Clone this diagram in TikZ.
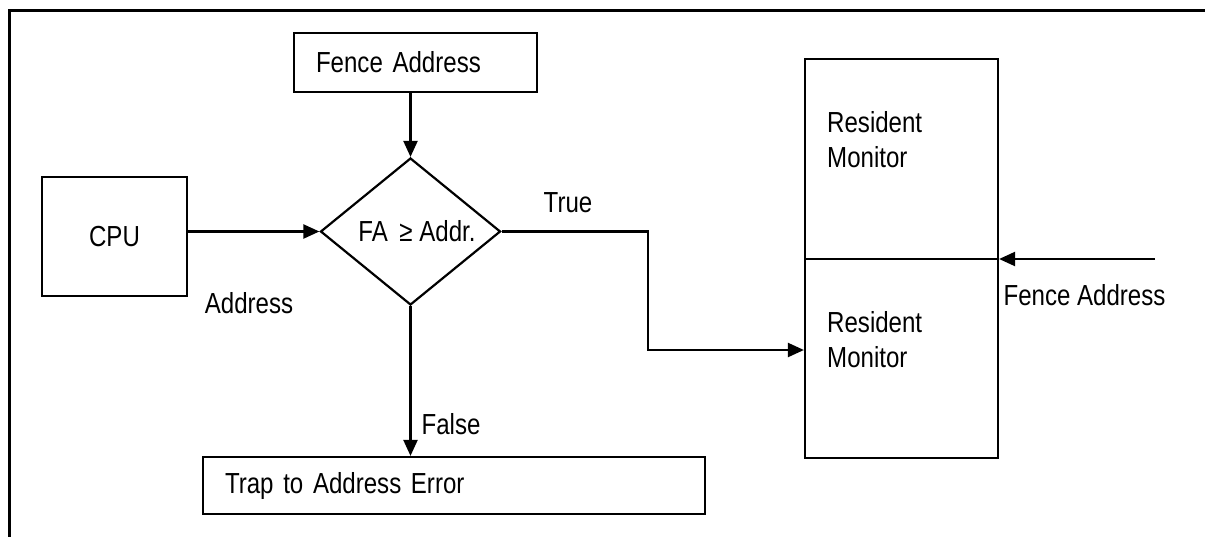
\documentclass[tikz,border=0pt]{standalone}
\usepackage{fontspec}
\setmainfont[FakeStretch=0.83]{Liberation Sans}
\usetikzlibrary{arrows.meta,shapes.geometric}
\begin{document}
\begin{tikzpicture}[x=1pt,y=-1pt,
  font=\fontsize{29}{35}\selectfont,
  box/.style={draw,line width=2.2pt,rectangle,inner sep=0pt},
  lbl/.style={inner sep=0pt},
  flow/.style={line width=2.2pt,-{Triangle[length=16pt,width=14pt]}}]
\useasboundingbox (0,0) rectangle (1205,536);
% frame (left and top edges)
\draw[line width=3pt,line cap=rect] (9,536) -- (9,10);
\draw[line width=3pt] (9,10) -- (1205,10);

% boxes
\node[box,minimum width=243pt,minimum height=59pt,text width=199pt,inner xsep=22pt,align=left]
  (fence) at (415.5,62.5) {Fence Address};
\node[box,minimum width=145pt,minimum height=119pt] (cpu) at (114.5,236.5) {CPU};
\node[draw,line width=2.2pt,diamond,inner sep=0pt,minimum width=180pt,minimum height=147pt]
  (dia) at (410.5,231.5) {};
\node[lbl] (cond) at (417,231) {FA \,≥ Addr.};
\node[box,minimum width=502pt,minimum height=57pt,text width=458pt,inner xsep=22pt,align=left]
  (trap) at (454,485.5) {Trap to Address Error};

% resident monitor column
\node[box,minimum width=193pt,minimum height=200pt] (rm1) at (901.5,159) {};
\node[box,minimum width=193pt,minimum height=199pt] (rm2) at (901.5,358.5) {};
\node[lbl,anchor=west,align=left] (rm1t) at (827,139.5) {Resident\\Monitor};
\node[lbl,anchor=west,align=left] (rm2t) at (827,339.5) {Resident\\Monitor};

% labels
\node[lbl] (addr) at (249,303) {Address};
\node[lbl] (true) at (568,203) {True};
\node[lbl] (false) at (451,424) {False};
\node[lbl] (fal) at (1084.5,295) {Fence Address};

% connectors
\coordinate (bend) at (648,350);
\coordinate (fa) at (1155,259);
\draw[flow] (fence.south -| dia.north) -- (dia.north);
\draw[flow] (cpu.east |- dia.west) -- (dia.west);
\draw[flow] (dia.east) -| (bend) -- (bend -| rm2.west);
\draw[flow] (dia.south) -- (dia.south |- trap.north);
\draw[flow] (fa) -- (fa -| rm1.east);
\end{tikzpicture}
\end{document}
